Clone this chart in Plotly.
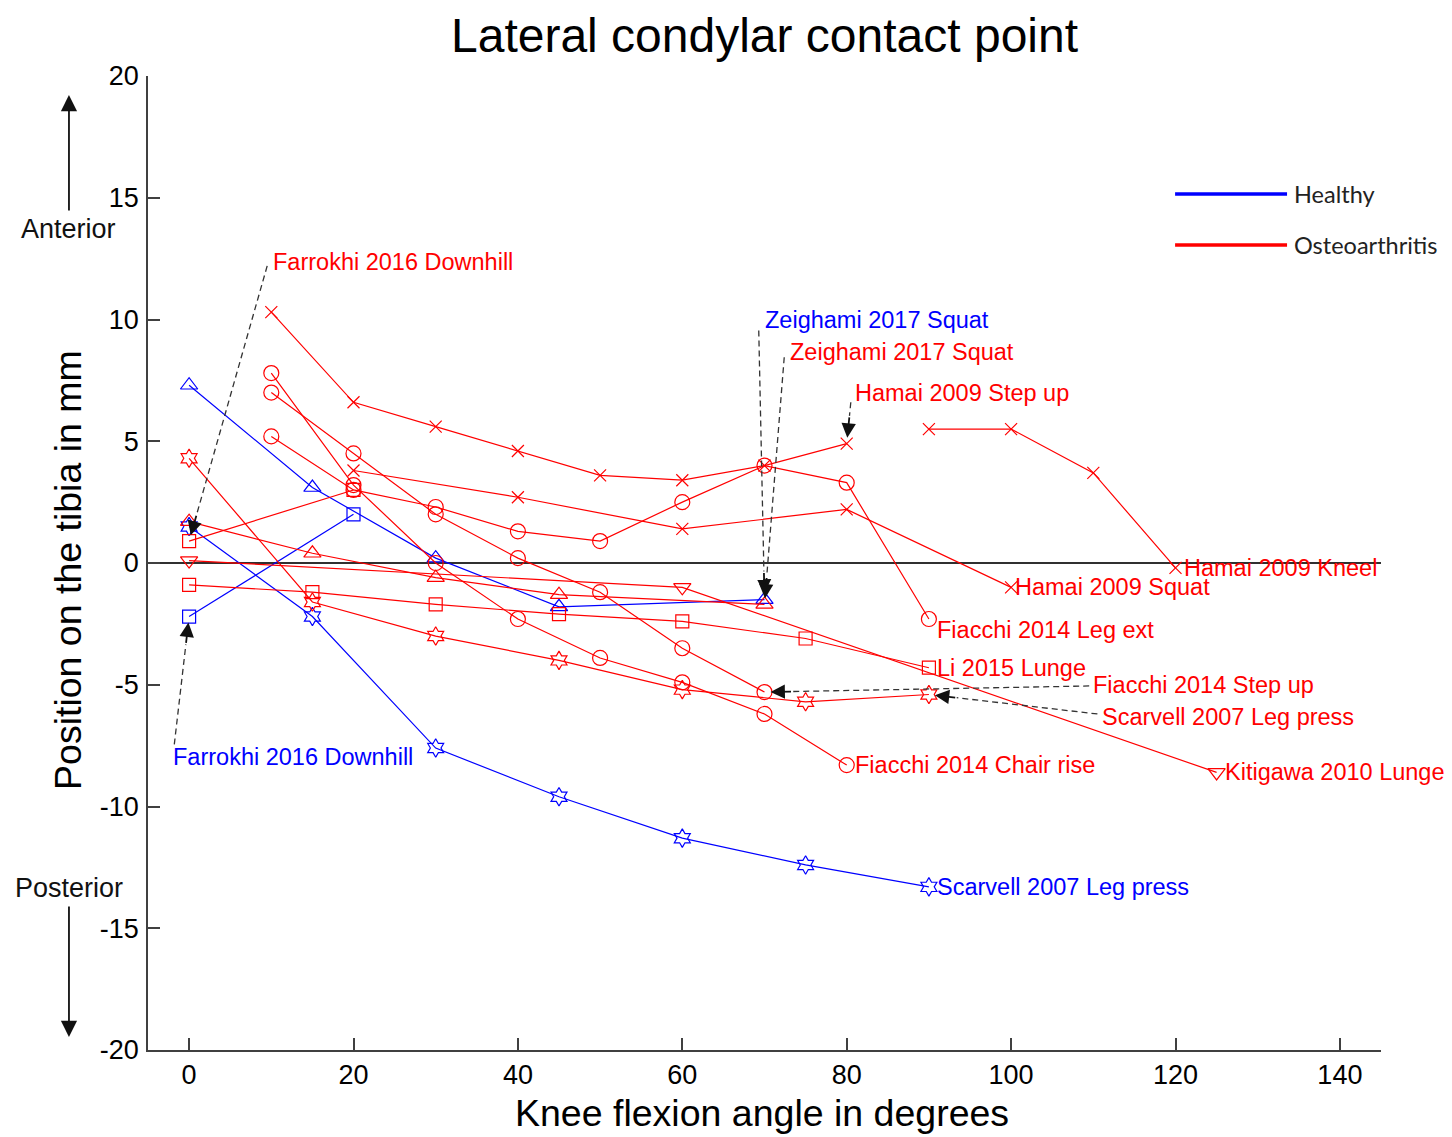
import math
import plotly.graph_objects as go

# ---- Healthy knees (blue) ----
zeighami_h_x = [0, 15, 30, 45, 70]
zeighami_h_y = [7.3, 3.1, 0.2, -1.8, -1.5]
farrokhi_h_x = [0, 20]
farrokhi_h_y = [-2.2, 2.0]
scarvell_h_x = [0, 15, 30, 45, 60, 75, 90]
scarvell_h_y = [1.5, -2.2, -7.6, -9.6, -11.3, -12.4, -13.3]

# ---- Osteoarthritic knees (red) ----
hamai_stepup_x = [10, 20, 30, 40, 50, 60, 70, 80]
hamai_stepup_y = [10.3, 6.6, 5.6, 4.6, 3.6, 3.4, 4.0, 4.9]
hamai_squat_x = [20, 40, 60, 80, 100]
hamai_squat_y = [3.8, 2.7, 1.4, 2.2, -1.0]
hamai_kneel_x = [90, 100, 110, 120]
hamai_kneel_y = [5.5, 5.5, 3.7, -0.2]
fiacchi_legext_x = [10, 20, 30, 40, 50, 60, 70, 80, 90]
fiacchi_legext_y = [5.2, 3.0, 2.3, 1.3, 0.9, 2.5, 4.0, 3.3, -2.3]
fiacchi_stepup_x = [10, 20, 30, 40, 50, 60, 70]
fiacchi_stepup_y = [7.0, 4.5, 2.0, 0.2, -1.2, -3.5, -5.3]
fiacchi_chair_x = [10, 20, 30, 40, 50, 60, 70, 80]
fiacchi_chair_y = [7.8, 3.2, 0.0, -2.3, -3.9, -4.9, -6.2, -8.3]
zeighami_oa_x = [0, 15, 30, 45, 70]
zeighami_oa_y = [1.7, 0.4, -0.6, -1.3, -1.7]
kitigawa_x = [0, 60, 125]
kitigawa_y = [0.1, -1.0, -8.6]
farrokhi_oa_x = [0, 20]
farrokhi_oa_y = [0.9, 3.0]
li_lunge_x = [0, 15, 30, 45, 60, 75, 90]
li_lunge_y = [-0.9, -1.2, -1.7, -2.1, -2.4, -3.1, -4.3]
scarvell_oa_x = [0, 15, 30, 45, 60, 75, 90]
scarvell_oa_y = [4.3, -1.6, -3.0, -4.0, -5.2, -5.7, -5.4]

x_ticks = [0, 20, 40, 60, 80, 100, 120, 140]
y_ticks = [-20, -15, -10, -5, 0, 5, 10, 15, 20]
x_tick_text = [str(v) for v in x_ticks]
y_tick_text = [str(v) for v in y_ticks]

BLUE = "#0000FF"
RED = "#FF0000"
FONT = "Liberation Sans, Arial, sans-serif"

W, H = 1452, 1137
ML, MR, MT, MB = 148, 71, 76, 87
XR = [-5, 145]
YR = [-20, 20]
PW, PH = W - ML - MR, H - MT - MB
PX_X = PW / (XR[1] - XR[0])
PX_Y = PH / (YR[1] - YR[0])

fig = go.Figure()

series = [
    (zeighami_h_x, zeighami_h_y, BLUE, "triangle-up-open", 15),
    (farrokhi_h_x, farrokhi_h_y, BLUE, "square-open", 13),
    (scarvell_h_x, scarvell_h_y, BLUE, "hexagram-open", 14),
    (hamai_stepup_x, hamai_stepup_y, RED, "x-thin-open", 12),
    (hamai_squat_x, hamai_squat_y, RED, "x-thin-open", 12),
    (hamai_kneel_x, hamai_kneel_y, RED, "x-thin-open", 12),
    (fiacchi_legext_x, fiacchi_legext_y, RED, "circle-open", 15),
    (fiacchi_stepup_x, fiacchi_stepup_y, RED, "circle-open", 15),
    (fiacchi_chair_x, fiacchi_chair_y, RED, "circle-open", 15),
    (zeighami_oa_x, zeighami_oa_y, RED, "triangle-up-open", 15),
    (kitigawa_x, kitigawa_y, RED, "triangle-down-open", 15),
    (farrokhi_oa_x, farrokhi_oa_y, RED, "square-open", 13),
    (li_lunge_x, li_lunge_y, RED, "square-open", 13),
    (scarvell_oa_x, scarvell_oa_y, RED, "hexagram-open", 14),
]
for xs, ys, col, sym, size in series:
    fig.add_trace(go.Scatter(
        x=xs, y=ys, mode="lines+markers",
        line=dict(color=col, width=1.2),
        marker=dict(symbol=sym, size=size, color=col, line=dict(color=col, width=1.2)),
        showlegend=False, hoverinfo="skip"))

annotations = []
shapes = []

# labels placed at the last point of a series
end_labels = [
    (hamai_kneel_x, hamai_kneel_y, "Hamai 2009 Kneel", RED, 6, 0),
    (hamai_squat_x, hamai_squat_y, "Hamai 2009 Squat", RED, 2, 0),
    (fiacchi_legext_x, fiacchi_legext_y, "Fiacchi 2014 Leg ext", RED, 6, -11),
    (li_lunge_x, li_lunge_y, "Li 2015 Lunge", RED, 6, 0),
    (fiacchi_chair_x, fiacchi_chair_y, "Fiacchi 2014 Chair rise", RED, 6, 0),
    (kitigawa_x, kitigawa_y, "Kitigawa 2010 Lunge", RED, 6, 0),
    (scarvell_h_x, scarvell_h_y, "Scarvell 2007 Leg press", BLUE, 6, 0),
]
for xs, ys, txt, col, dx, dy in end_labels:
    annotations.append(dict(
        x=xs[-1], y=ys[-1], xref="x", yref="y", text=txt, showarrow=False,
        xanchor="left", yanchor="middle", xshift=dx, yshift=dy,
        font=dict(family=FONT, size=23.5, color=col)))

# labels joined to a point by a dashed leader and an arrowhead
# (text x, text y, leader start x, leader start y, target x, target y)
callouts = [
    ("Farrokhi 2016 Downhill", RED, 10.0, 12.36, 9.5, 12.2, farrokhi_oa_x[0], farrokhi_oa_y[0]),
    ("Farrokhi 2016 Downhill", BLUE, -2.2, -7.97, -1.8, -7.45, farrokhi_h_x[0], farrokhi_h_y[0]),
    ("Zeighami 2017 Squat", BLUE, 69.8, 9.98, 69.3, 9.55, zeighami_h_x[-1], zeighami_h_y[-1]),
    ("Zeighami 2017 Squat", RED, 72.9, 8.67, 72.4, 8.45, zeighami_oa_x[-1], zeighami_oa_y[-1]),
    ("Hamai 2009 Step up", RED, 80.8, 6.98, 80.5, 6.6, hamai_stepup_x[-1], hamai_stepup_y[-1]),
    ("Fiacchi 2014 Step up", RED, 109.7, -5.01, 109.5, -5.05, fiacchi_stepup_x[-1], fiacchi_stepup_y[-1]),
    ("Scarvell 2007 Leg press", RED, 110.8, -6.32, 110.5, -6.2, scarvell_oa_x[-1], scarvell_oa_y[-1]),
]
HEAD_LEN = 22
STANDOFF = 6
for txt, col, tx, ty, lx, ly, px_, py_ in callouts:
    annotations.append(dict(
        x=tx, y=ty, xref="x", yref="y", text=txt, showarrow=False,
        xanchor="left", yanchor="middle",
        font=dict(family=FONT, size=23.5, color=col)))
    # direction from target toward leader start, in screen pixels
    dxp = (lx - px_) * PX_X
    dyp = -(ly - py_) * PX_Y
    dist = math.hypot(dxp, dyp)
    ux, uy = dxp / dist, dyp / dist
    tail = HEAD_LEN + STANDOFF
    annotations.append(dict(
        x=px_, y=py_, xref="x", yref="y", text="", showarrow=True,
        ax=ux * tail, ay=uy * tail, arrowhead=2, arrowsize=1.6, arrowwidth=1.8,
        arrowcolor="#111111", standoff=STANDOFF))
    ex = px_ + ux * tail / PX_X
    ey = py_ - uy * tail / PX_Y
    shapes.append(dict(
        type="line", xref="x", yref="y", x0=lx, y0=ly, x1=ex, y1=ey,
        line=dict(color="#333333", width=1.3, dash="6px,4px")))

# legend drawn as coloured strokes with text
legend_items = [("Healthy", BLUE, 0.8789), ("Osteoarthritis", RED, 0.8265)]
for name, col, yy in legend_items:
    shapes.append(dict(type="line", xref="paper", yref="paper",
                       x0=0.833, x1=0.9238, y0=yy, y1=yy,
                       line=dict(color=col, width=3.5)))
    annotations.append(dict(x=0.9278, y=yy, xref="paper", yref="paper", text=name,
                            showarrow=False, xanchor="left", yanchor="middle",
                            font=dict(family="Lato, Noto Sans, sans-serif", size=23.5,
                                      color="#222222")))

# direction hints beside the y axis
annotations += [
    dict(x=-0.0641, y=0.843, xref="paper", yref="paper", text="Anterior", showarrow=False,
         xanchor="center", yanchor="middle", font=dict(family=FONT, size=27, color="#111111")),
    dict(x=-0.0641, y=0.1663, xref="paper", yref="paper", text="Posterior", showarrow=False,
         xanchor="center", yanchor="middle", font=dict(family=FONT, size=27, color="#111111")),
    dict(x=-0.0641, y=0.9805, xref="paper", yref="paper", text="", showarrow=True,
         ax=0, ay=117, arrowhead=2, arrowsize=1.8, arrowwidth=1.8, arrowcolor="#111111"),
    dict(x=-0.0641, y=0.0134, xref="paper", yref="paper", text="", showarrow=True,
         ax=0, ay=-132, arrowhead=2, arrowsize=1.8, arrowwidth=1.8, arrowcolor="#111111"),
    # titles
    dict(x=0.5004, y=1.042, xref="paper", yref="paper", text="Lateral condylar contact point",
         showarrow=False, xanchor="center", yanchor="middle",
         font=dict(family=FONT, size=48, color="#000000")),
    dict(x=0.498, y=-0.0647, xref="paper", yref="paper", text="Knee flexion angle in degrees",
         showarrow=False, xanchor="center", yanchor="middle",
         font=dict(family=FONT, size=37.5, color="#000000")),
    dict(x=-0.0649, y=0.4928, xref="paper", yref="paper", text="Position on the tibia in mm",
         showarrow=False, xanchor="center", yanchor="middle", textangle=-90,
         font=dict(family=FONT, size=37.5, color="#000000")),
]

axis_common = dict(
    showgrid=False, showline=True, linecolor="#404040", linewidth=1.5,
    ticks="inside", ticklen=12, tickwidth=1.5, tickcolor="#404040",
    tickfont=dict(family=FONT, size=27, color="#000000"), mirror=False,
)
fig.update_layout(
    width=W, height=H,
    margin=dict(l=ML, r=MR, t=MT, b=MB),
    paper_bgcolor="white", plot_bgcolor="white",
    xaxis=dict(range=XR, tickvals=x_ticks, ticktext=x_tick_text, zeroline=False,
               ticklabelstandoff=0, **axis_common),
    yaxis=dict(range=YR, tickvals=y_ticks, ticktext=y_tick_text, zeroline=True,
               zerolinecolor="#303030", zerolinewidth=1.5, ticklabelstandoff=2, **axis_common),
    annotations=annotations, shapes=shapes, showlegend=False,
)

fig.write_html("out.html")
